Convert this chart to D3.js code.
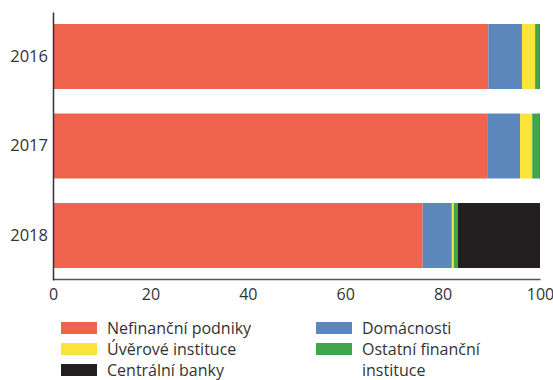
<!DOCTYPE html>
<meta charset="utf-8">
<script src="https://d3js.org/d3.v7.min.js"></script>
<style>
  body { margin: 0; background: #fff; }
  text { font-family: "Open Sans", sans-serif; fill: #333; }
</style>
<div id="chart"></div>
<script>

// data
var years = ["2016", "2017", "2018"];
var series = ["Nefinanční podniky", "Domácnosti", "Úvěrové instituce", "Ostatní finanční instituce", "Centrální banky"];
var nefinancni = [89.4, 89.3, 75.9];
var domacnosti = [6.9, 6.6, 6.0];
var uverove = [2.7, 2.5, 0.4];
var ostatni = [0.9, 1.5, 0.8];
var centralni = [0.1, 0.1, 16.9];
var xTicks = [0, 20, 40, 60, 80, 100];

var colors = ["#f0634d", "#5b87bd", "#fbe43a", "#40a64a", "#231f20"];

var width = 553, height = 380;

var svg = d3.select("#chart").append("svg")
    .attr("width", width)
    .attr("height", height);

var rows = years.map(function(y, i) {
  return {year: y, "Nefinanční podniky": nefinancni[i], "Domácnosti": domacnosti[i],
    "Úvěrové instituce": uverove[i], "Ostatní finanční instituce": ostatni[i], "Centrální banky": centralni[i]};
});

var stacked = d3.stack().keys(series)(rows);

var x = d3.scaleLinear().domain([0, 100]).range([53, 540]);
var y = d3.scaleBand().domain(years).range([12, 280]).paddingInner(0.274).paddingOuter(0.134);

var color = d3.scaleOrdinal().domain(series).range(colors);

svg.append("g")
  .selectAll("g")
  .data(stacked)
  .join("g")
    .attr("fill", function(d) { return color(d.key); })
  .selectAll("rect")
  .data(function(d) { return d; })
  .join("rect")
    .attr("x", function(d) { return x(d[0]); })
    .attr("y", function(d) { return y(d.data.year); })
    .attr("width", function(d) { return x(d[1]) - x(d[0]); })
    .attr("height", y.bandwidth());

// axes
var xAxis = svg.append("g")
  .attr("transform", "translate(0,279)")
  .call(d3.axisBottom(x).tickValues(xTicks).tickSize(0).tickPadding(10));
xAxis.select(".domain").attr("stroke", "#555").attr("stroke-width", 1.5);
xAxis.selectAll("text").style("font-size", "16px").attr("fill", "#333");

var yAxis = svg.append("g")
  .attr("transform", "translate(53,0)")
  .call(d3.axisLeft(y).tickSize(0).tickPadding(5));
yAxis.select(".domain").attr("stroke", "#333").attr("stroke-width", 1.5);
yAxis.selectAll("text").style("font-size", "16.5px").attr("fill", "#333");

// legend
var legendItems = [
  {key: "Nefinanční podniky", col: 0, row: 0, lines: ["Nefinanční podniky"]},
  {key: "Úvěrové instituce", col: 0, row: 1, lines: ["Úvěrové instituce"]},
  {key: "Centrální banky", col: 0, row: 2, lines: ["Centrální banky"]},
  {key: "Domácnosti", col: 1, row: 0, lines: ["Domácnosti"]},
  {key: "Ostatní finanční instituce", col: 1, row: 1, lines: ["Ostatní finanční", "instituce"]}
];
var colX = [61, 316], rowY = 328, rowH = 21;

var legend = svg.append("g").selectAll("g")
  .data(legendItems)
  .join("g")
    .attr("transform", function(d) { return "translate(" + colX[d.col] + "," + (rowY + d.row * rowH) + ")"; });

legend.append("rect")
  .attr("x", 0).attr("y", -6)
  .attr("width", 36).attr("height", 12)
  .attr("fill", function(d) { return color(d.key); });

legend.append("text")
  .attr("x", 46)
  .attr("y", 0)
  .style("font-size", "16px")
  .selectAll("tspan")
  .data(function(d) { return d.lines; })
  .join("tspan")
    .attr("x", 46)
    .attr("dy", function(d, i) { return i === 0 ? "0.35em" : "21px"; })
    .text(function(d) { return d; });

</script>
